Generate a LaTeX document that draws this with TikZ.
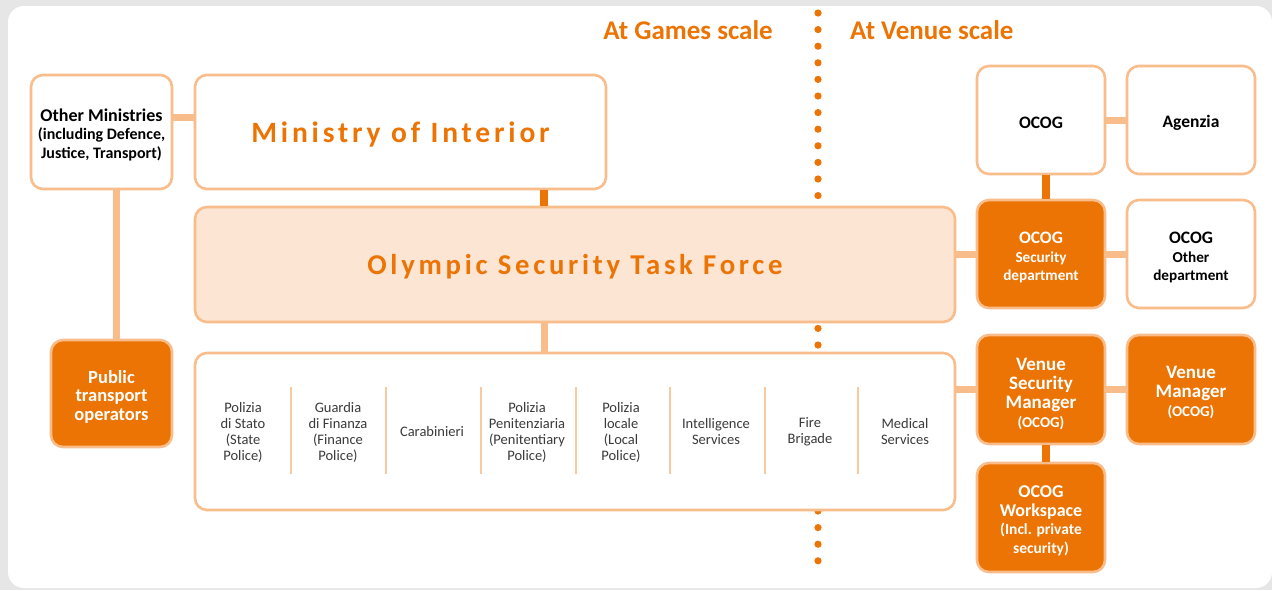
\documentclass[tikz,border=0pt]{standalone}
\usepackage{fontspec}
\setmainfont{Carlito}
\newfontfamily\spacedfont[LetterSpace=13]{Carlito}
\usetikzlibrary{calc}
\definecolor{dor}{HTML}{EC7404}
\definecolor{lor}{HTML}{F8BD8B}
\definecolor{lfill}{HTML}{FCE5D3}
\definecolor{bggray}{HTML}{E6E6E6}
\definecolor{txtgray}{HTML}{3A3A3A}
\tikzset{
  x=1pt, y=-1pt,
  box/.style={draw=lor, line width=2.6pt, rounded corners=12pt, fill=white, inner sep=0pt},
  darkbox/.style={box, fill=dor},
  btext/.style={align=center, inner sep=0pt, text=black},
  wtext/.style={btext, text=white},
  lconn/.style={draw=lor, line width=7pt},
  dconn/.style={draw=dor, line width=8pt},
  sep/.style={draw=lor!80, line width=2pt},
  agency/.style={align=center, text=txtgray, font=\fontsize{14.5}{16}\selectfont, inner sep=0pt},
  scalehead/.style={text=dor, font=\fontsize{27}{30}\selectfont\bfseries, inner sep=0pt},
  bigtitle/.style={text=dor, font=\fontsize{#1}{32}\selectfont\spacedfont\bfseries},
  bigtitle/.default=29.5
}
\begin{document}
\begin{tikzpicture}
\useasboundingbox (0,0) rectangle (1272,590);
\fill[bggray] (0,0) rectangle (1272,590);
\fill[white, rounded corners=16pt] (8,6) rectangle (1272,588);

% dotted divider
\foreach \yy in {13,29.6,...,572} \fill[dor] (818,\yy) circle (3.6);

\node[scalehead, anchor=east] (games) at (773,30.5) {At Games scale};
\node[scalehead, anchor=west] (venue) at (850,30.5) {At Venue scale};

% boxes
\node[box, minimum width=141pt, minimum height=114pt] (om) at (101.5,132) {};
\node[box, minimum width=411pt, minimum height=114pt] (moi) at (400.5,132) {};
\node[box, fill=lfill, minimum width=760pt, minimum height=115pt] (ostf) at (575,264.5) {};
\node[box, minimum width=760pt, minimum height=157pt] (ag) at (575,431.5) {};
\node[darkbox, minimum width=121pt, minimum height=107pt] (pt) at (111.5,393.5) {};

% connectors
\draw[lconn] ([yshift=15pt]om.east) -- ([yshift=15pt]om.east -| moi.west);
\draw[lconn] ([xshift=4.5pt]pt.north) -- ([xshift=4.5pt]pt.north |- om.south);
\draw[dconn] ([xshift=-31pt]ostf.north) -- ([xshift=-31pt]ostf.north |- moi.south);
\draw[lconn] ([xshift=-31pt]ag.north) -- ([xshift=-31pt]ag.north |- ostf.south);

\node[btext, font=\fontsize{18}{19}\selectfont\bfseries] (omt) at ([yshift=-3pt]om.center)
  {Other Ministries\\[-1pt]{\fontsize{16}{19}\selectfont (including Defence,}\\{\fontsize{16}{19}\selectfont Justice, Transport)}};
\node[wtext, font=\fontsize{18.5}{18.5}\selectfont\bfseries] (ptt) at ([yshift=-3pt]pt.center)
  {Public\\transport\\operators};
\node[bigtitle] (moit) at ([yshift=-2pt]moi.center) {Ministry of Interior};
\node[bigtitle=28.7] (ostft) at ([yshift=-2.5pt]ostf.center) {Olympic Security Task Force};

% agencies
\foreach \xx in {291,386,481,576,670,765,858} \draw[sep] (\xx,387) -- (\xx,474);
\node[agency] (a1) at (243,432) {Polizia\\di Stato\\(State\\Police)};
\node[agency] (a2) at (338,432) {Guardia\\di Finanza\\(Finance\\Police)};
\node[agency] (a3) at (432,432) {Carabinieri};
\node[agency] (a4) at (527,432) {Polizia\\Penitenziaria\\(Penitentiary\\Police)};
\node[agency] (a5) at (621,432) {Polizia\\locale\\(Local\\Police)};
\node[agency] (a6) at (716,432) {Intelligence\\Services};
\node[agency] (a7) at (810,432) {Fire\\Brigade};
\node[agency] (a8) at (905,432) {Medical\\Services};

% venue side
\node[box, minimum width=128pt, minimum height=108pt] (ocog) at (1041,120) {};
\node[box, minimum width=128pt, minimum height=108pt] (agz) at (1191,120) {};
\node[darkbox, minimum width=128pt, minimum height=108pt] (sec) at (1041,254) {};
\node[box, minimum width=128pt, minimum height=108pt] (oth) at (1191,254) {};
\node[darkbox, minimum width=128pt, minimum height=109pt] (vsm) at (1041,389.5) {};
\node[darkbox, minimum width=128pt, minimum height=109pt] (vm) at (1191,389.5) {};
\node[darkbox, minimum width=128pt, minimum height=109pt] (ws) at (1041,517.5) {};

\node[btext, font=\fontsize{17.5}{19}\selectfont\bfseries] (ocogt) at ([yshift=-2.5pt]ocog.center) {OCOG};
\node[btext, font=\fontsize{17.5}{19}\selectfont\bfseries] (agzt) at ([yshift=-2.5pt]agz.center) {Agenzia};
\node[wtext, font=\fontsize{17.5}{18}\selectfont\bfseries] (sect) at ([yshift=-3pt]sec.center)
  {OCOG\\[1pt]{\fontsize{15.2}{16}\selectfont Security}\\{\fontsize{15.2}{16}\selectfont department}};
\node[btext, font=\fontsize{17.5}{18}\selectfont\bfseries] (otht) at ([yshift=-3pt]oth.center)
  {OCOG\\[1pt]{\fontsize{15.2}{16}\selectfont Other}\\{\fontsize{15.2}{16}\selectfont department}};
\node[wtext, font=\fontsize{19}{19}\selectfont\bfseries] (vsmt) at ([yshift=-4pt]vsm.center)
  {Venue\\Security\\Manager\\{\fontsize{15}{19}\selectfont (OCOG)}};
\node[wtext, font=\fontsize{19}{19}\selectfont\bfseries] (vmt) at ([yshift=-3pt]vm.center)
  {Venue\\Manager\\{\fontsize{15}{19}\selectfont (OCOG)}};
\node[wtext, font=\fontsize{18}{19}\selectfont\bfseries] (wst) at ([yshift=-3pt]ws.center)
  {OCOG\\Workspace\\[-1pt]{\fontsize{15.5}{16}\selectfont (Incl. private}\\{\fontsize{15.5}{16}\selectfont security)}};

\draw[lconn] (ocog.east) -- (agz.west);
\draw[lconn] (sec.east) -- (oth.west);
\draw[lconn] (sec.west) -- (sec.west -| ostf.east);
\draw[lconn] (vsm.east) -- (vm.west);
\draw[lconn] (vsm.west) -- (vsm.west -| ag.east);
\draw[dconn] ([xshift=5pt]sec.north) -- ([xshift=5pt]sec.north |- ocog.south);
\draw[dconn] ([xshift=5pt]ws.north) -- ([xshift=5pt]ws.north |- vsm.south);
\end{tikzpicture}
\end{document}
